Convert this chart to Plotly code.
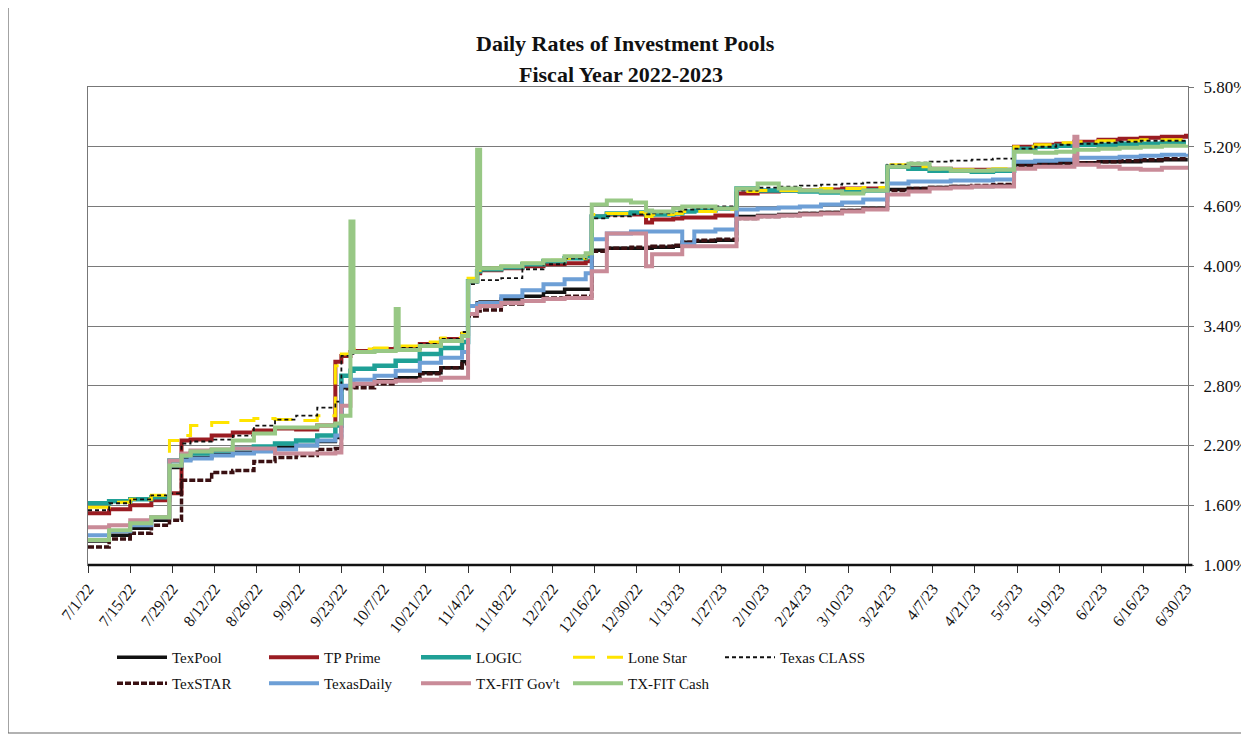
import plotly.graph_objects as go

# ---------------- data ----------------
dates = [
    "2022-07-01", "2022-07-08", "2022-07-15", "2022-07-22", "2022-07-28",
    "2022-08-01", "2022-08-04", "2022-08-11", "2022-08-18", "2022-08-25", "2022-09-01", "2022-09-08", "2022-09-15",
    "2022-09-21", "2022-09-23", "2022-09-26", "2022-09-27", "2022-10-04", "2022-10-11", "2022-10-12", "2022-10-19", "2022-10-26", "2022-11-02",
    "2022-11-04", "2022-11-07", "2022-11-08", "2022-11-15", "2022-11-22", "2022-11-29", "2022-12-06", "2022-12-13",
    "2022-12-15", "2022-12-20", "2022-12-28", "2023-01-02", "2023-01-04", "2023-01-11", "2023-01-14", "2023-01-18", "2023-01-25",
    "2023-02-01", "2023-02-08", "2023-02-15", "2023-02-22", "2023-03-01", "2023-03-08", "2023-03-15",
    "2023-03-23", "2023-03-30", "2023-04-06", "2023-04-13", "2023-04-20", "2023-04-27",
    "2023-05-04", "2023-05-11", "2023-05-18", "2023-05-24", "2023-05-25", "2023-06-01", "2023-06-08", "2023-06-15", "2023-06-22", "2023-06-30",
]

tex_pool = [1.24, 1.30, 1.37, 1.45, 1.98,
            2.06, 2.08, 2.11, 2.13, 2.15, 2.18, 2.20, 2.24,
            2.28, 2.78, 2.80, 2.82, 2.85, 2.88, 2.88, 2.93, 2.98, 3.04,
            3.60, 3.63, 3.64, 3.67, 3.70, 3.74, 3.77, 3.77,
            4.16, 4.18, 4.18, 4.18, 4.19, 4.20, 4.24, 4.25, 4.26,
            4.50, 4.51, 4.52, 4.53, 4.54, 4.56, 4.58,
            4.77, 4.78, 4.79, 4.80, 4.80, 4.81,
            5.02, 5.03, 5.04, 5.04, 5.04, 5.05, 5.05, 5.06, 5.07, 5.09]

tp_prime = [1.52, 1.56, 1.60, 1.65, 1.72,
            2.25, 2.26, 2.30, 2.33, 2.35, 2.37, 2.36, 2.40,
            3.04, 3.10, 3.14, 3.15, 3.17, 3.18, 3.18, 3.22, 3.27, 3.32,
            3.85, 3.93, 3.96, 3.98, 4.00, 4.02, 4.03, 4.05,
            4.50, 4.52, 4.52, 4.44, 4.47, 4.48, 4.49, 4.49, 4.51,
            4.73, 4.75, 4.76, 4.76, 4.77, 4.78, 4.78,
            5.00, 4.99, 4.98, 4.97, 4.97, 4.97,
            5.20, 5.22, 5.23, 5.25, 5.25, 5.27, 5.28, 5.29, 5.30, 5.33]

logic = [1.62, 1.64, 1.66, 1.68, 2.05,
         2.10, 2.12, 2.15, 2.17, 2.19, 2.22, 2.25, 2.30,
         2.40, 2.90, 2.95, 2.97, 3.00, 3.05, 3.05, 3.12, 3.18, 3.24,
         3.85, 3.95, 3.97, 3.99, 4.02, 4.05, 4.08, 4.10,
         4.50, 4.53, 4.54, 4.52, 4.52, 4.53, 4.55, 4.56, 4.58,
         4.78, 4.76, 4.76, 4.75, 4.74, 4.75, 4.76,
         5.00, 4.98, 4.96, 4.96, 4.95, 4.96,
         5.18, 5.20, 5.21, 5.22, 5.22, 5.22, 5.23, 5.23, 5.24, 5.24]

lone_star = [1.58, 1.63, 1.66, 1.70, 2.25,
             2.30, 2.40, 2.43, 2.45, 2.47, 2.46, 2.45, 2.50,
             3.00, 3.12, 3.17, 3.17, 3.18, 3.20, 3.20, 3.24, 3.28, 3.33,
             3.88, 3.96, 3.98, 4.00, 4.03, 4.06, 4.08, 4.12,
             4.52, 4.53, 4.54, 4.50, 4.52, 4.53, 4.55, 4.55, 4.57,
             4.75, 4.76, 4.76, 4.77, 4.78, 4.78, 4.79,
             5.02, 5.00, 4.98, 4.97, 4.97, 4.98,
             5.20, 5.22, 5.24, 5.25, 5.25, 5.26, 5.26, 5.27, 5.27, 5.28]

texas_class = [1.55, 1.62, 1.66, 1.70, 1.72,
               2.22, 2.24, 2.26, 2.30, 2.40, 2.46, 2.50, 2.58,
               2.64, 3.10, 3.12, 3.13, 3.15, 3.18, 3.18, 3.22, 3.27, 3.34,
               3.82, 3.85, 3.86, 3.88, 3.97, 4.02, 4.08, 4.12,
               4.48, 4.50, 4.52, 4.52, 4.53, 4.55, 4.57, 4.58, 4.60,
               4.76, 4.79, 4.80, 4.81, 4.82, 4.83, 4.84,
               5.02, 5.04, 5.05, 5.06, 5.07, 5.08,
               5.18, 5.20, 5.22, 5.23, 5.23, 5.24, 5.25, 5.26, 5.26, 5.27]

texstar = [1.18, 1.26, 1.32, 1.40, 1.45,
           1.85, 1.85, 1.93, 1.95, 2.04, 2.08, 2.10, 2.16,
           2.17, 2.77, 2.77, 2.78, 2.82, 2.86, 2.86, 2.92, 2.98, 3.02,
           3.50, 3.55, 3.56, 3.62, 3.65, 3.68, 3.70, 3.70,
           4.15, 4.18, 4.19, 4.19, 4.20, 4.21, 4.24, 4.26, 4.27,
           4.48, 4.50, 4.51, 4.53, 4.54, 4.56, 4.58,
           4.76, 4.78, 4.79, 4.80, 4.81, 4.82,
           5.01, 5.02, 5.03, 5.04, 5.04, 5.05, 5.06, 5.07, 5.08, 5.10]

texas_daily = [1.30, 1.34, 1.40, 1.48, 2.00,
               2.05, 2.07, 2.10, 2.12, 2.14, 2.16, 2.20, 2.25,
               2.30, 2.80, 2.85, 2.86, 2.90, 2.95, 2.95, 3.03, 3.08, 3.14,
               3.60, 3.62, 3.63, 3.70, 3.76, 3.82, 3.87, 3.93,
               4.27, 4.33, 4.35, 4.35, 4.35, 4.35, 4.22, 4.35, 4.37,
               4.57, 4.58, 4.59, 4.60, 4.62, 4.64, 4.67,
               4.83, 4.85, 4.85, 4.86, 4.86, 4.87,
               5.05, 5.06, 5.07, 5.09, 5.09, 5.09, 5.10, 5.11, 5.12, 5.13]

txfit_govt = [1.38, 1.40, 1.45, 1.48, 2.05,
              2.12, 2.15, 2.16, 2.17, 2.17, 2.12, 2.12, 2.12,
              2.13, 2.60, 2.80, 2.82, 2.84, 2.85, 2.85, 2.86, 2.88, 2.88,
              3.52, 3.58, 3.60, 3.63, 3.65, 3.67, 3.68, 3.68,
              3.95, 4.33, 4.33, 4.00, 4.12, 4.12, 4.20, 4.20, 4.20,
              4.48, 4.50, 4.51, 4.52, 4.53, 4.55, 4.57,
              4.72, 4.75, 4.78, 4.79, 4.80, 4.80,
              4.98, 5.00, 5.00, 5.30, 5.02, 5.00, 4.98, 4.97, 4.99, 5.01]

txfit_cash = [1.25, 1.35, 1.42, 1.48, 2.00,
              2.10, 2.14, 2.16, 2.25, 2.32, 2.38, 2.38, 2.40,
              2.42, 2.50, 4.45, 3.14, 3.15, 3.57, 3.16, 3.20, 3.25, 3.30,
              3.85, 5.17, 3.98, 4.00, 4.03, 4.06, 4.10, 4.13,
              4.62, 4.66, 4.64, 4.56, 4.55, 4.58, 4.60, 4.60, 4.58,
              4.78, 4.83, 4.78, 4.76, 4.75, 4.73, 4.76,
              5.00, 5.03, 4.98, 4.96, 4.96, 4.97,
              5.15, 5.14, 5.15, 5.17, 5.17, 5.18, 5.19, 5.20, 5.21, 5.22]

tick_dates = ["2022-07-01", "2022-07-15", "2022-07-29", "2022-08-12", "2022-08-26", "2022-09-09",
              "2022-09-23", "2022-10-07", "2022-10-21", "2022-11-04", "2022-11-18", "2022-12-02",
              "2022-12-16", "2022-12-30", "2023-01-13", "2023-01-27", "2023-02-10", "2023-02-24",
              "2023-03-10", "2023-03-24", "2023-04-07", "2023-04-21", "2023-05-05", "2023-05-19",
              "2023-06-02", "2023-06-16", "2023-06-30"]
tick_labels = ["7/1/22", "7/15/22", "7/29/22", "8/12/22", "8/26/22", "9/9/22", "9/23/22", "10/7/22",
               "10/21/22", "11/4/22", "11/18/22", "12/2/22", "12/16/22", "12/30/22", "1/13/23",
               "1/27/23", "2/10/23", "2/24/23", "3/10/23", "3/24/23", "4/7/23", "4/21/23", "5/5/23",
               "5/19/23", "6/2/23", "6/16/23", "6/30/23"]
y_ticks = [1.0, 1.6, 2.2, 2.8, 3.4, 4.0, 4.6, 5.2, 5.8]
y_tick_labels = ["1.00%", "1.60%", "2.20%", "2.80%", "3.40%", "4.00%", "4.60%", "5.20%", "5.80%"]

# ---------------- styling ----------------
series = [
    ("TexPool", tex_pool, "#111111", 3.5, "solid", "legend"),
    ("TP Prime", tp_prime, "#9a1c22", 4.0, "solid", "legend"),
    ("LOGIC", logic, "#1fa096", 4.5, "solid", "legend"),
    ("Lone Star", lone_star, "#ffe400", 3.0, "22px,12px", "legend"),
    ("Texas CLASS", texas_class, "#111111", 1.8, "4px,3px", "legend"),
    ("TexSTAR", texstar, "#3a1012", 3.5, "6px,2px", "legend2"),
    ("TexasDaily", texas_daily, "#6d9fd6", 4.0, "solid", "legend2"),
    ("TX-FIT Gov't", txfit_govt, "#c98b98", 4.0, "solid", "legend2"),
    ("TX-FIT Cash", txfit_cash, "#98c885", 4.0, "solid", "legend2"),
]

FONT = "Liberation Serif, Times New Roman, serif"

fig = go.Figure()
for name, vals, color, width, dash, leg in series:
    assert len(vals) == len(dates), name
    fig.add_trace(go.Scatter(
        x=dates, y=vals, name=name, mode="lines",
        line=dict(color=color, width=width, dash=dash, shape="hv"),
        legend=leg,
    ))

# The page body has an 8px margin, so the figure is sized to fill the rest.
OFF = 8
W, H = 1249 - OFF, 736 - OFF
L, T = 88 - OFF, 87 - OFF
R = W - (1188 - OFF)
B = H - (565 - OFF)
pw, ph = W - L - R, H - T - B

def px_x(page_x):
    return (page_x - OFF - L) / pw

def px_y(page_y):
    return (H - B - (page_y - OFF)) / ph

legend_common = dict(
    orientation="h", xanchor="left", yanchor="top",
    entrywidth=87, entrywidthmode="pixels", itemwidth=50,
    font=dict(family=FONT, size=15, color="#111"),
    bgcolor="rgba(0,0,0,0)", borderwidth=0, tracegroupgap=0,
    traceorder="normal",
)

fig.update_layout(
    width=W, height=H,
    margin=dict(l=L, r=R, t=T, b=B, autoexpand=False),
    paper_bgcolor="white", plot_bgcolor="white",
    font=dict(family=FONT, color="#111"),
    showlegend=True,
    legend=dict(x=px_x(112), y=px_y(641), **legend_common),
    legend2=dict(x=px_x(112), y=px_y(667), **legend_common),
    xaxis=dict(
        type="date", range=["2022-07-01", "2023-06-30 16:00"],
        tickmode="array", tickvals=tick_dates, ticktext=tick_labels,
        tickangle=-52, tickfont=dict(family=FONT, size=16, color="#111"),
        ticks="outside", ticklen=7, tickcolor="#333", tickwidth=1,
        showgrid=False, showline=True, linecolor="#777", linewidth=1.2, mirror=True,
        zeroline=False,
    ),
    yaxis=dict(
        side="right", range=[1.0, 5.8],
        tickmode="array", tickvals=y_ticks, ticktext=y_tick_labels,
        tickfont=dict(family=FONT, size=17, color="#111"),
        ticks="outside", ticklen=5, tickcolor="#777", ticklabelstandoff=6,
        ticklabeloverflow="allow",
        showgrid=True, gridcolor="#7a7a7a", gridwidth=1.4,
        showline=True, linecolor="#777", linewidth=1.2, mirror=True,
        zeroline=False,
    ),
    annotations=[
        dict(text="<b>Daily Rates of Investment Pools</b>", x=px_x(625), y=px_y(43),
             xref="paper", yref="paper", showarrow=False, xanchor="center", yanchor="middle",
             font=dict(family=FONT, size=22, color="#111")),
        dict(text="<b>Fiscal Year 2022-2023</b>", x=px_x(621), y=px_y(74),
             xref="paper", yref="paper", showarrow=False, xanchor="center", yanchor="middle",
             font=dict(family=FONT, size=22, color="#111")),
    ],
    shapes=[
        dict(type="rect", xref="paper", yref="paper",
             x0=px_x(8), x1=px_x(1245), y0=px_y(733), y1=px_y(7),
             line=dict(color="#666", width=1.2), layer="below"),
        dict(type="line", xref="paper", yref="paper", x0=0, x1=1.004, y0=0, y1=0,
             line=dict(color="#111", width=2.5), layer="above"),
    ],
)

fig.write_html("out.html")
